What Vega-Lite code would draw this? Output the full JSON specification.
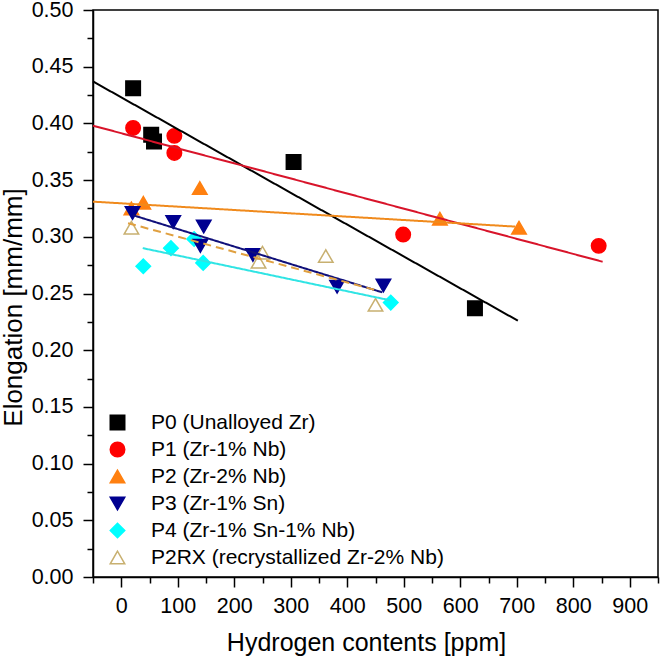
{
  "$schema": "https://vega.github.io/schema/vega-lite/v6.json",
  "width": 565,
  "height": 567,
  "autosize": "none",
  "padding": {"left": 93, "top": 10, "right": 4, "bottom": 84},
  "background": "white",
  "config": {
    "font": "Liberation Sans",
    "view": {"stroke": "black", "strokeWidth": 1.5},
    "axis": {
      "grid": false,
      "domainColor": "black",
      "domainWidth": 1.5,
      "tickColor": "black",
      "tickWidth": 1.5,
      "labelColor": "black",
      "labelFont": "Liberation Sans",
      "labelFontSize": 21.5,
      "titleFont": "Liberation Sans",
      "titleFontWeight": "normal",
      "titleColor": "black"
    },
    "legend": {
      "labelFont": "Liberation Sans",
      "labelFontSize": 21,
      "labelColor": "black",
      "labelLimit": 0
    }
  },
  "datasets": {
    "points": [
      {"sample": "P0 (Unalloyed Zr)", "h": 21, "e": 0.431},
      {"sample": "P0 (Unalloyed Zr)", "h": 53, "e": 0.390},
      {"sample": "P0 (Unalloyed Zr)", "h": 58, "e": 0.384},
      {"sample": "P0 (Unalloyed Zr)", "h": 305, "e": 0.366},
      {"sample": "P0 (Unalloyed Zr)", "h": 626, "e": 0.237},
      {"sample": "P1 (Zr-1% Nb)", "h": 21, "e": 0.396},
      {"sample": "P1 (Zr-1% Nb)", "h": 94, "e": 0.389},
      {"sample": "P1 (Zr-1% Nb)", "h": 94, "e": 0.374},
      {"sample": "P1 (Zr-1% Nb)", "h": 499, "e": 0.302},
      {"sample": "P1 (Zr-1% Nb)", "h": 845, "e": 0.292},
      {"sample": "P2 (Zr-2% Nb)", "h": 18, "e": 0.325},
      {"sample": "P2 (Zr-2% Nb)", "h": 39, "e": 0.330},
      {"sample": "P2 (Zr-2% Nb)", "h": 139, "e": 0.343},
      {"sample": "P2 (Zr-2% Nb)", "h": 564, "e": 0.316},
      {"sample": "P2 (Zr-2% Nb)", "h": 704, "e": 0.308},
      {"sample": "P4 (Zr-1% Sn-1% Nb)", "h": 39, "e": 0.274},
      {"sample": "P4 (Zr-1% Sn-1% Nb)", "h": 88, "e": 0.290},
      {"sample": "P4 (Zr-1% Sn-1% Nb)", "h": 129, "e": 0.298},
      {"sample": "P4 (Zr-1% Sn-1% Nb)", "h": 145, "e": 0.277},
      {"sample": "P4 (Zr-1% Sn-1% Nb)", "h": 477, "e": 0.242},
      {"sample": "P3 (Zr-1% Sn)", "h": 20, "e": 0.321},
      {"sample": "P3 (Zr-1% Sn)", "h": 92, "e": 0.313},
      {"sample": "P3 (Zr-1% Sn)", "h": 146, "e": 0.309},
      {"sample": "P3 (Zr-1% Sn)", "h": 140, "e": 0.292},
      {"sample": "P3 (Zr-1% Sn)", "h": 233, "e": 0.284},
      {"sample": "P3 (Zr-1% Sn)", "h": 382, "e": 0.256},
      {"sample": "P3 (Zr-1% Sn)", "h": 464, "e": 0.257},
      {"sample": "P2RX (recrystallized Zr-2% Nb)", "h": 18, "e": 0.308},
      {"sample": "P2RX (recrystallized Zr-2% Nb)", "h": 250, "e": 0.286},
      {"sample": "P2RX (recrystallized Zr-2% Nb)", "h": 243, "e": 0.278},
      {"sample": "P2RX (recrystallized Zr-2% Nb)", "h": 362, "e": 0.283},
      {"sample": "P2RX (recrystallized Zr-2% Nb)", "h": 450, "e": 0.240}
    ],
    "fits": [
      {"fit": "P0", "h": -50, "e": 0.437},
      {"fit": "P0", "h": 702, "e": 0.226},
      {"fit": "P1", "h": -50, "e": 0.398},
      {"fit": "P1", "h": 852, "e": 0.278},
      {"fit": "P2", "h": -50, "e": 0.331},
      {"fit": "P2", "h": 697, "e": 0.309},
      {"fit": "P3", "h": 21, "e": 0.319},
      {"fit": "P3", "h": 462, "e": 0.251},
      {"fit": "P4", "h": 38, "e": 0.290},
      {"fit": "P4", "h": 476, "e": 0.244},
      {"fit": "P2RX", "h": 12, "e": 0.312},
      {"fit": "P2RX", "h": 450, "e": 0.253}
    ]
  },
  "layer": [
    {
      "data": {"name": "points"},
      "mark": {"type": "point", "filled": true, "opacity": 1, "strokeWidth": 1.5},
      "encoding": {
        "x": {
          "field": "h", "type": "quantitative",
          "scale": {"domain": [-50, 950], "nice": false, "zero": false},
          "axis": {
            "orient": "bottom",
            "values": [0, 100, 200, 300, 400, 500, 600, 700, 800, 900],
            "tickSize": 10,
            "labelPadding": 8,
            "title": "Hydrogen contents [ppm]",
            "titleFontSize": 25,
            "titlePadding": 14,
            "titleX": 273
          }
        },
        "y": {
          "field": "e", "type": "quantitative",
          "scale": {"domain": [0, 0.5], "nice": false, "zero": false},
          "axis": {
            "orient": "left",
            "values": [0, 0.05, 0.1, 0.15, 0.2, 0.25, 0.3, 0.35, 0.4, 0.45, 0.5],
            "format": ".2f",
            "tickSize": 10,
            "labelPadding": 10,
            "title": "Elongation [mm/mm]",
            "titleFontSize": 26,
            "titleBaseline": "alphabetic",
            "titleX": -72,
            "titleY": 297
          }
        },
        "shape": {
          "field": "sample", "type": "nominal",
          "scale": {
            "domain": ["P0 (Unalloyed Zr)", "P1 (Zr-1% Nb)", "P2 (Zr-2% Nb)", "P3 (Zr-1% Sn)", "P4 (Zr-1% Sn-1% Nb)", "P2RX (recrystallized Zr-2% Nb)"],
            "range": ["square", "circle", "triangle-up", "triangle-down", "diamond", "triangle-up"]
          },
          "legend": {
            "title": null,
            "orient": "none",
            "legendX": 14,
            "legendY": 402,
            "padding": 0,
            "labelOffset": 23,
            "rowPadding": 5,
            "symbolStrokeWidth": 1.5
          }
        },
        "fill": {
          "field": "sample", "type": "nominal",
          "scale": {
            "domain": ["P0 (Unalloyed Zr)", "P1 (Zr-1% Nb)", "P2 (Zr-2% Nb)", "P3 (Zr-1% Sn)", "P4 (Zr-1% Sn-1% Nb)", "P2RX (recrystallized Zr-2% Nb)"],
            "range": ["#000000", "#ff0000", "#ff8010", "#000090", "#00ffff", "transparent"]
          },
          "legend": {
            "title": null,
            "orient": "none",
            "legendX": 14,
            "legendY": 402,
            "padding": 0,
            "labelOffset": 23,
            "rowPadding": 5,
            "symbolStrokeWidth": 1.5
          }
        },
        "stroke": {
          "field": "sample", "type": "nominal",
          "scale": {
            "domain": ["P0 (Unalloyed Zr)", "P1 (Zr-1% Nb)", "P2 (Zr-2% Nb)", "P3 (Zr-1% Sn)", "P4 (Zr-1% Sn-1% Nb)", "P2RX (recrystallized Zr-2% Nb)"],
            "range": ["#000000", "#ff0000", "#ff8010", "#000090", "#00ffff", "#c8b070"]
          },
          "legend": {
            "title": null,
            "orient": "none",
            "legendX": 14,
            "legendY": 402,
            "padding": 0,
            "labelOffset": 23,
            "rowPadding": 5,
            "symbolStrokeWidth": 1.5
          }
        },
        "size": {
          "field": "sample", "type": "nominal",
          "scale": {
            "domain": ["P0 (Unalloyed Zr)", "P1 (Zr-1% Nb)", "P2 (Zr-2% Nb)", "P3 (Zr-1% Sn)", "P4 (Zr-1% Sn-1% Nb)", "P2RX (recrystallized Zr-2% Nb)"],
            "range": [210, 210, 360, 380, 380, 330]
          },
          "legend": {
            "title": null,
            "orient": "none",
            "legendX": 14,
            "legendY": 402,
            "padding": 0,
            "labelOffset": 23,
            "rowPadding": 5,
            "symbolStrokeWidth": 1.5
          }
        }
      }
    },
    {
      "data": {"name": "fits"},
      "mark": {"type": "line", "strokeWidth": 2},
      "encoding": {
        "x": {
          "field": "h", "type": "quantitative",
          "scale": {"domain": [-50, 950], "nice": false, "zero": false},
          "axis": {
            "orient": "bottom",
            "values": [-50, 50, 150, 250, 350, 450, 550, 650, 750, 850, 950],
            "tickSize": 6,
            "labels": false,
            "domain": false,
            "title": null
          }
        },
        "y": {
          "field": "e", "type": "quantitative",
          "scale": {"domain": [0, 0.5], "nice": false, "zero": false},
          "axis": {
            "orient": "left",
            "values": [0.025, 0.075, 0.125, 0.175, 0.225, 0.275, 0.325, 0.375, 0.425, 0.475],
            "tickSize": 6,
            "labels": false,
            "domain": false,
            "title": null
          }
        },
        "color": {
          "field": "fit", "type": "nominal",
          "scale": {
            "domain": ["P0", "P1", "P2", "P3", "P4", "P2RX"],
            "range": ["#000000", "#d8142a", "#f08a1c", "#10107a", "#30e4e4", "#e0a040"]
          },
          "legend": null
        },
        "strokeDash": {
          "field": "fit", "type": "nominal",
          "scale": {
            "domain": ["P0", "P1", "P2", "P3", "P4", "P2RX"],
            "range": [[1, 0], [1, 0], [1, 0], [1, 0], [1, 0], [8, 5]]
          },
          "legend": null
        }
      }
    }
  ],
  "resolve": {"axis": {"x": "independent", "y": "independent"}}
}
